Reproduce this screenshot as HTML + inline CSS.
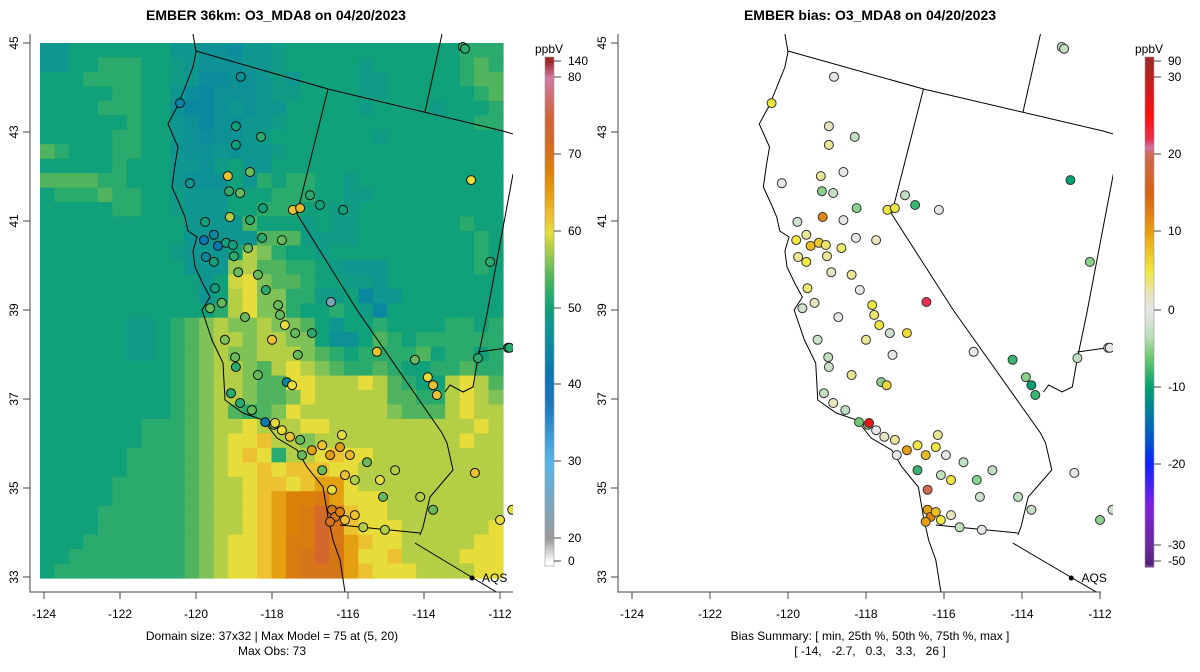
<!DOCTYPE html>
<html><head><meta charset="utf-8"><style>
body{margin:0;background:#fff;}
svg{display:block;font-family:"Liberation Sans",sans-serif;}
</style></head><body>
<svg id="fig" width="1200" height="672" viewBox="0 0 1200 672" xmlns="http://www.w3.org/2000/svg">
<defs>
<clipPath id="clipL"><rect x="30" y="34" width="483" height="558"/></clipPath>
<clipPath id="clipR"><rect x="618" y="34" width="495" height="558"/></clipPath>
</defs>
<text x="276" y="20" text-anchor="middle" font-size="14" font-weight="bold">EMBER 36km: O3_MDA8 on 04/20/2023</text>
<text x="870" y="20" text-anchor="middle" font-size="14" font-weight="bold">EMBER bias: O3_MDA8 on 04/20/2023</text>
<g id="left"></g>
<g id="right"></g>
<text x="272" y="640" text-anchor="middle" font-size="12">Domain size: 37x32 | Max Model = 75 at (5, 20)</text>
<text x="272" y="655" text-anchor="middle" font-size="12">Max Obs: 73</text>
<text x="870" y="640" text-anchor="middle" font-size="12">Bias Summary: [ min, 25th %, 50th %, 75th %, max ]</text>
<text x="870" y="655" text-anchor="middle" font-size="12" xml:space="preserve">[ -14,   -2.7,   0.3,   3.3,   26 ]</text>
</svg>
<script>
// ---- data ----
const gridRows = [
"iikkkkkkkiihhgiijkkkkkkkkkkkkmmm",
"iikkmmmkkjihhhiijkkkkkjkkkkkkmom",
"kkkmmmmkkjigghhijikkkkjjkkkkkmoo",
"kkkkkmmkkigfhhhijjkkkkjjkkkkkkmo",
"kkkkmmmkkhffhihiikkkkkjkkkkjkkkm",
"kkkkkkmkkihfhhiijkkkkkkkkkkkkkmm",
"kkkkkmmkkihghhijkkkkkkkjkkkkkkkk",
"omkkkmmkkihhihiijkkkkkkkkkkkkkkk",
"kkkkkmkkkiihjkiikkkkkkkkkkkkkkkk",
"oooommkkkihhhkimkmmkkjkkkkkkkkkk",
"kmmmommkkjiiikkkmmmkkjjkkkkkkkkk",
"kkkkkmmkkjiiikkmmmkkjjkkkkkkkkkk",
"kkkkkkkkkkiiiiokkkjkjjkkkkkkkmkk",
"kkkkkkkkkkiiiiiooojjjjkkkkkkkkmk",
"kkkkkkkkkjiiiksqmkkjkkkkkkkkkkmk",
"kkkkkkkkkkiiirsoommkjiiikkkkkkmk",
"kkkkkkkkkkkiktuqoomkkjjikkkkkkkk",
"kkkkkkkkkkkiksuqqmmjjkfiikkkkkkk",
"kkkkkkkkkkkkmsuqqmkkmkjfkkkkkkkk",
"kkkkkkjjkmoqsqqsqqokikkmkkkkmmkm",
"kkkkkkjjkmoqssqssqqkhhkomkmmmmmm",
"kkkkkkjjkmoqsqqsssqomkmmmmokmmkm",
"kkkkkkkkkmoqssqosusqommomkkmmomm",
"kkkkkkkkkmoqssqoouusssusomkksuso",
"kkkkkkkkkmoqssqooqusssssoommsusq",
"kkkkkkkkkmoqsomoqussssssqooosuss",
"kkkkkkkmmmoqssusssuussssssssssuss",
"kkkkkkkmmmoqsuuwssqssssssssssuss",
"kkkkkkmmmmoqsuwumssuwuusssssssss",
"kkkkkkmmmmoqsuuwuwwwuussssssssss",
"kkkkkmmmmmoqssuwwuwzzussssssssss",
"kkkkkmmmmmoqssuwzCCDzuuussssssss",
"kkkkmmmmmmoqssuwzCDGEwuussssssss",
"kkkkmmmmmmoqssuwzCDHEwuuussssssu",
"kkkmmmmmmmoqsuuwzDDHEzwuusssssuu",
"kkmmmmmmmmoqsuuwzDEHEzuuwssssuuu",
"kmmmmmmmmmoqsuuwzDEEEzwuuussssuu"
];
const gridCodes = "abcdefghijklmnopqrstuvwxyzABCDEFGHIJ"; // a=40 ppbV ... J=75
const lons = [-120.42,-118.82,-118.95,-118.95,-118.29,-120.16,-119.16,-119.13,-118.84,-118.58,-117.45,-117.26,-117.0,-116.74,-116.13,-112.76,-112.98,-119.76,-119.53,-119.79,-119.42,-119.21,-119.03,-119.74,-119.53,-119.0,-118.63,-119.11,-118.58,-118.24,-118.26,-117.74,-118.89,-118.37,-118.16,-119.5,-119.32,-119.63,-118.71,-117.79,-117.66,-117.39,-117.84,-116.45,-116.95,-118.0,-117.32,-118.97,-118.95,-118.37,-117.61,-117.47,-115.24,-114.24,-113.9,-113.76,-113.66,-112.58,-111.79,-112.26,-119.08,-118.84,-118.53,-118.18,-117.95,-117.74,-117.53,-117.26,-117.21,-116.95,-116.68,-116.47,-116.21,-115.95,-116.16,-115.5,-116.68,-116.08,-116.42,-115.82,-115.16,-114.76,-115.08,-114.1,-113.76,-112.66,-112.0,-111.68,-116.42,-116.34,-116.21,-116.08,-115.82,-116.47,-115.6,-115.03,-119.24,-117.92,-112.92,-111.75];
const lats = [43.65,44.24,43.13,42.71,42.89,41.85,42.01,41.67,41.63,42.10,41.25,41.29,41.58,41.36,41.25,41.92,44.91,40.98,40.69,40.57,40.44,40.51,40.46,40.19,40.08,40.21,40.39,41.09,41.02,41.29,40.62,40.57,39.85,39.79,39.45,39.49,39.16,39.04,38.84,38.89,38.66,38.48,39.11,39.18,38.48,38.33,37.99,37.94,37.72,37.54,37.38,37.31,38.06,37.88,37.49,37.31,37.09,37.92,38.15,40.08,37.13,36.91,36.75,36.48,36.42,36.30,36.15,36.08,35.74,35.85,35.96,35.74,35.92,35.74,36.19,35.58,35.40,35.29,34.96,35.18,35.18,35.40,34.80,34.80,34.51,35.34,34.28,34.51,34.51,34.35,34.46,34.28,34.39,34.24,34.12,34.06,38.33,36.46,44.87,38.15];
const obsVals = [44,47,50,50,52,48,62,52,55,55,62,63,52,50,50,60,52,50,45,42,42,50,50,45,50,52,55,58,52,50,52,55,55,55,52,50,55,55,55,55,60,55,55,24,52,62,55,55,52,55,45,60,62,55,60,62,62,52,50,52,52,52,55,42,55,60,62,55,55,65,62,65,65,63,60,55,55,62,60,58,60,58,55,58,55,62,60,60,70,70,68,62,62,70,58,58,56,60,52,52];
const biasVals = [5,0,2,3,-3,0,3,-5,-3,0,5,5,-3,-8,0,-10,-3,-2,3,5,8,7,4,3,5,3,4,12,0,-5,0,2,2,3,0,4,2,-2,0,4,5,-2,5,22,6,3,0,-3,-2,3,-5,6,0,-8,-5,-10,-8,-3,0,-5,-3,2,-3,-6,-5,0,2,3,0,10,5,8,5,0,3,-3,-8,-3,20,5,-5,-3,-2,-3,-3,0,-5,-2,10,12,8,5,2,10,-3,0,-2,26,-3,0];
const lonTicks = [-124,-122,-120,-118,-116,-114,-112];
const latTicks = [33,35,37,39,41,43,45];
const obsBarLabels = [0,20,30,40,50,60,70,80,140];
const biasBarLabels = [-50,-30,-20,-10,0,10,20,30,90];
// ---- rendering ----
const NS="http://www.w3.org/2000/svg";
function mk(tag,attrs,parent){const e=document.createElementNS(NS,tag);for(const k in attrs)e.setAttribute(k,attrs[k]);parent.appendChild(e);return e;}
function hex(h){return [parseInt(h.substr(1,2),16),parseInt(h.substr(3,2),16),parseInt(h.substr(5,2),16)];}
function interp(stops,v){if(v<=stops[0][0])return stops[0][1];for(let i=1;i<stops.length;i++){if(v<=stops[i][0]){const t=(v-stops[i-1][0])/(stops[i][0]-stops[i-1][0]);const a=hex(stops[i-1][1]),b=hex(stops[i][1]);return 'rgb('+a.map((x,j)=>Math.round(x+(b[j]-x)*t)).join(',')+')';}}return stops[stops.length-1][1];}
const obsStops=[[0,'#ffffff'],[20,'#9a9a9a'],[30,'#56b4e9'],[38,'#1874b8'],[42,'#0878b0'],[45,'#0a88a0'],[48,'#0f9690'],[50,'#10a07a'],[52,'#2aaa6c'],[54,'#50b45e'],[56,'#7ec258'],[58,'#b4ce46'],[60,'#e6dc3a'],[62,'#ecc232'],[65,'#e4a010'],[68,'#dc800a'],[72,'#d26a28'],[75,'#d0643a'],[80,'#d07aa8'],[140,'#a02828']];
const biasStops=[[-50,'#5a2080'],[-30,'#6a2a9a'],[-25,'#8020e0'],[-20,'#1020ff'],[-17,'#0050d0'],[-13,'#00809a'],[-10,'#00a070'],[-6,'#70c870'],[-3,'#c0e0c0'],[0,'#e6e6e6'],[2,'#e8e4c0'],[5,'#f0e840'],[10,'#e8a010'],[15,'#d86010'],[20,'#d06a50'],[21,'#d070a0'],[22,'#e83050'],[25,'#ff1010'],[30,'#c02020'],[90,'#a02828']];
const obsBarY=[561,538,461,384,308,231,154,77,61];
const biasBarY=[561,545,464,387,310,231,154,77,61];
// map geometry (left-panel pixel space)
const coast=[[193,34],[196,52],[193,67],[184,90],[177,107],[168,124],[178,147],[175,165],[172,187],[180,205],[185,217],[188,231],[197,237],[193,251],[195,267],[203,284],[210,297],[202,310],[212,340],[223,363],[225,400],[243,413],[263,420],[277,438],[297,450],[307,467],[323,487],[328,517],[333,540],[340,560],[345,592]];
const borders=[
[[196,51],[328,89],[503,131],[513,134]],
[[328,89],[297,214],[357,310],[442,433],[447,443],[453,470],[430,497],[423,527],[420,535]],
[[340,525],[420,533]],
[[415,543],[473,578],[513,602]],
[[425,112],[442,34]],
[[513,174],[487,314],[478,358],[473,387],[463,392],[450,385],[445,392]],
[[478,352],[513,347]]
];
function drawPanel(g,clip,kx,x0,isBias,axisX){
  const X=lon=>x0+(lon+124)*kx;
  const Y=lat=>43+(45-lat)*44.5;
  const px=x=>x0+(x-44)*kx/38;
  const mg=mk('g',{'clip-path':'url(#'+clip+')'},g);
  if(!isBias){
    const nc=32, nr=gridRows.length, cw=463/nc, ch=535/nr;
    gridRows.forEach((row,r)=>{for(let c=0;c<nc;c++){const code=row[c]||'k';let idx=gridCodes.indexOf(code);if(idx<0)idx=10;const v=40+idx;
      const cell=mk('rect',{x:(40+c*cw).toFixed(2),y:(43+r*ch).toFixed(2),width:(cw+0.6).toFixed(2),height:(ch+0.6).toFixed(2),fill:interp(obsStops,v)},mg);
      
      }});
  }
  const cp=mk('polyline',{points:coast.map(p=>px(p[0])+','+p[1]).join(' '),fill:'none',stroke:'#000','stroke-width':1},mg);
  
  
  borders.forEach(b=>{const l=mk('polyline',{points:b.map(p=>px(p[0])+','+p[1]).join(' '),fill:'none',stroke:'#000','stroke-width':1},mg);
    
    });
  lons.forEach((lo,i)=>{const v=isBias?biasVals[i]:obsVals[i];
    const c=mk('circle',{cx:X(lo).toFixed(1),cy:Y(lats[i]).toFixed(1),r:4.5,fill:interp(isBias?biasStops:obsStops,v),stroke:isBias?'#333':'#111','stroke-width':1},mg);
    
    });
  const ad=mk('circle',{cx:px(472),cy:578,r:2.5,fill:'#000'},g);
  
  
  const at=mk('text',{x:px(482),y:582,'font-size':12},g);at.textContent='AQS';
  
  
  const ax=mk('path',{d:'M'+axisX+',34 V592 H'+(axisX+483),fill:'none',stroke:'#444','stroke-width':1},g);
  
  
  lonTicks.forEach(t=>{mk('line',{x1:X(t),x2:X(t),y1:592,y2:599,stroke:'#444'},g);
    const tx=mk('text',{x:X(t),y:618,'text-anchor':'middle','font-size':12},g);tx.textContent=t;
    
    });
  latTicks.forEach(t=>{mk('line',{x1:axisX-7,x2:axisX,y1:Y(t),y2:Y(t),stroke:'#444'},g);
    const tx=mk('text',{x:0,y:0,'text-anchor':'middle','font-size':12,transform:'translate('+(axisX-12)+','+Y(t)+') rotate(-90)'},g);tx.textContent=t;
    
    });
  const bx=isBias?1145:545, labels=isBias?biasBarLabels:obsBarLabels, ys=isBias?biasBarY:obsBarY, stops=isBias?biasStops:obsStops;
  const cb=mk('g',{},g);
  
  
  for(let y=57;y<566;y+=2){let v;
    if(y>=ys[0])v=labels[0];else if(y<=ys[ys.length-1])v=labels[labels.length-1];
    else{for(let i=1;i<ys.length;i++){if(y>=ys[i]){const t=(ys[i-1]-y)/(ys[i-1]-ys[i]);v=labels[i-1]+t*(labels[i]-labels[i-1]);break;}}}
    mk('rect',{x:bx,y:y,width:9,height:2.4,fill:interp(stops,v)},cb);}
  mk('rect',{x:bx,y:57,width:9,height:509,fill:'none',stroke:'#999','stroke-width':0.6},cb);
  labels.forEach((l,i)=>{mk('line',{x1:bx+9,x2:bx+16,y1:ys[i],y2:ys[i],stroke:'#444'},cb);
    const tx=mk('text',{x:bx+23,y:ys[i]+4,'font-size':12},cb);tx.textContent=l;
    
    });
  const un=mk('text',{x:bx+4,y:53,'text-anchor':'middle','font-size':12},cb);un.textContent='ppbV';
  
  
}
drawPanel(document.getElementById('left'),'clipL',38,44,false,30);
drawPanel(document.getElementById('right'),'clipR',39,632,true,618);
</script>
</body></html>
